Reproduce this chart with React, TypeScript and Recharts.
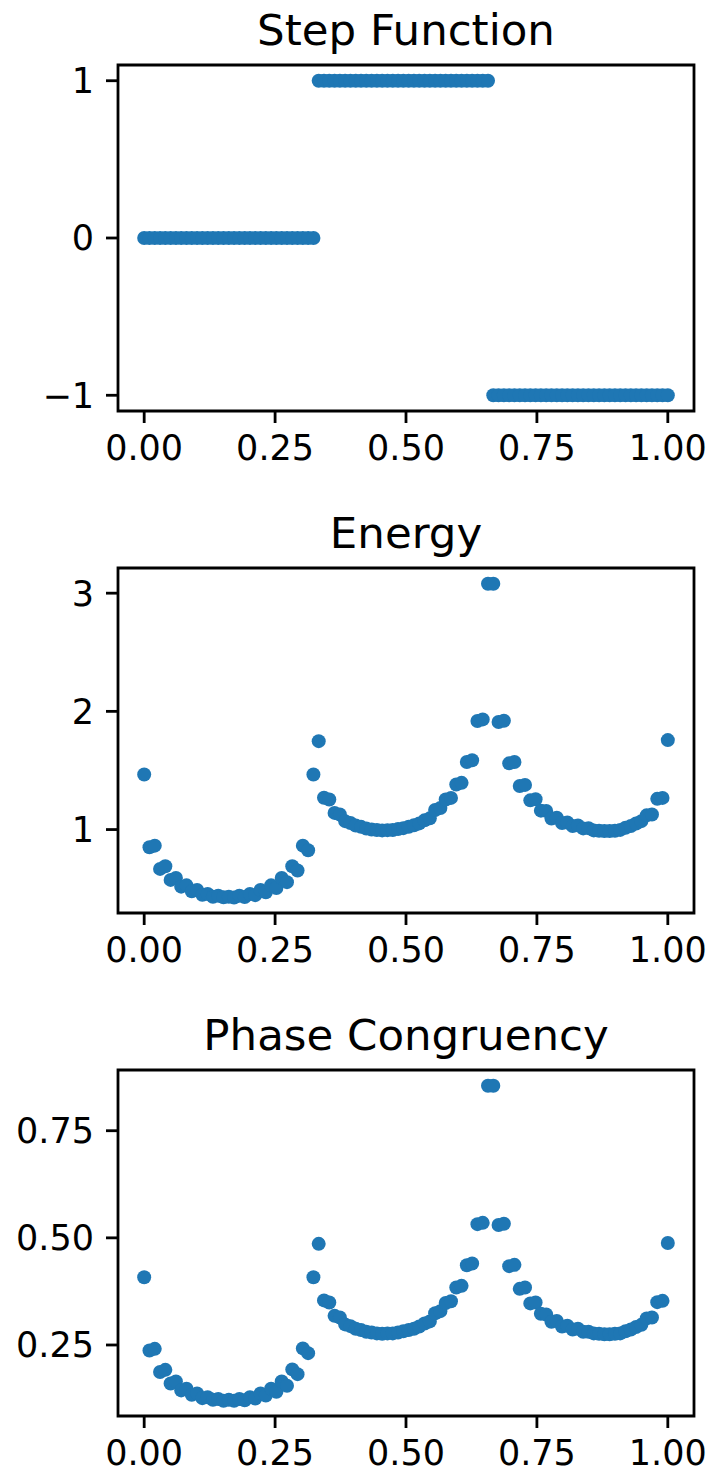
import React from "react";
import { ScatterChart, Scatter, XAxis, YAxis, ReferenceArea } from "recharts";

const xValues = [
  0, 0.0101, 0.0202, 0.0303, 0.0404, 0.0505, 0.0606, 0.0707, 0.0808, 0.0909,
  0.101, 0.1111, 0.1212, 0.1313, 0.1414, 0.1515, 0.1616, 0.1717, 0.1818, 0.1919,
  0.202, 0.2121, 0.2222, 0.2323, 0.2424, 0.2525, 0.2626, 0.2727, 0.2828, 0.2929,
  0.303, 0.3131, 0.3232, 0.3333, 0.3434, 0.3535, 0.3636, 0.3737, 0.3838, 0.3939,
  0.404, 0.4141, 0.4242, 0.4343, 0.4444, 0.4545, 0.4646, 0.4747, 0.4848, 0.4949,
  0.5051, 0.5152, 0.5253, 0.5354, 0.5455, 0.5556, 0.5657, 0.5758, 0.5859, 0.596,
  0.6061, 0.6162, 0.6263, 0.6364, 0.6465, 0.6566, 0.6667, 0.6768, 0.6869, 0.697,
  0.7071, 0.7172, 0.7273, 0.7374, 0.7475, 0.7576, 0.7677, 0.7778, 0.7879, 0.798,
  0.8081, 0.8182, 0.8283, 0.8384, 0.8485, 0.8586, 0.8687, 0.8788, 0.8889, 0.899,
  0.9091, 0.9192, 0.9293, 0.9394, 0.9495, 0.9596, 0.9697, 0.9798, 0.9899, 1.0,
];

const stepValues = [
  0, 0, 0, 0, 0, 0, 0, 0, 0, 0, 0, 0, 0, 0, 0, 0, 0, 0, 0, 0, 0, 0, 0, 0, 0, 0, 0, 0, 0, 0, 0, 0, 0,
  1, 1, 1, 1, 1, 1, 1, 1, 1, 1, 1, 1, 1, 1, 1, 1, 1, 1, 1, 1, 1, 1, 1, 1, 1, 1, 1, 1, 1, 1, 1, 1, 1,
  -1, -1, -1, -1, -1, -1, -1, -1, -1, -1, -1, -1, -1, -1, -1, -1, -1, -1, -1, -1, -1, -1, -1, -1, -1, -1,
  -1, -1, -1, -1, -1, -1, -1, -1,
];

const energyValues = [
  1.466, 0.85, 0.864, 0.667, 0.689, 0.574, 0.59, 0.517, 0.528, 0.477,
  0.489, 0.449, 0.455, 0.432, 0.441, 0.427, 0.432, 0.425, 0.441, 0.43,
  0.455, 0.445, 0.489, 0.47, 0.528, 0.505, 0.59, 0.555, 0.689, 0.653,
  0.864, 0.825, 1.466, 1.748, 1.269, 1.254, 1.141, 1.127, 1.071, 1.056,
  1.034, 1.023, 1.008, 1.0, 0.996, 0.993, 0.995, 0.996, 1.004, 1.012,
  1.024, 1.036, 1.052, 1.078, 1.095, 1.165, 1.182, 1.254, 1.268, 1.381,
  1.395, 1.571, 1.587, 1.918, 1.932, 3.08, 3.08, 1.91, 1.92, 1.56,
  1.572, 1.368, 1.378, 1.247, 1.256, 1.16, 1.158, 1.094, 1.1, 1.055,
  1.06, 1.03, 1.035, 1.01, 1.012, 0.993, 0.99, 0.987, 0.988, 0.99,
  0.997, 1.015, 1.03, 1.051, 1.071, 1.12, 1.127, 1.26, 1.268, 1.757,
];

const phaseValues = [
  0.408, 0.237, 0.241, 0.187, 0.192, 0.16, 0.165, 0.144, 0.148, 0.134,
  0.137, 0.126, 0.128, 0.122, 0.124, 0.12, 0.122, 0.12, 0.124, 0.121,
  0.128, 0.125, 0.137, 0.132, 0.148, 0.141, 0.165, 0.155, 0.193, 0.182,
  0.242, 0.231, 0.408, 0.486, 0.354, 0.349, 0.318, 0.314, 0.298, 0.294,
  0.288, 0.285, 0.281, 0.279, 0.277, 0.276, 0.277, 0.277, 0.279, 0.282,
  0.285, 0.288, 0.293, 0.3, 0.305, 0.324, 0.329, 0.348, 0.352, 0.384,
  0.388, 0.436, 0.44, 0.532, 0.535, 0.855, 0.855, 0.53, 0.533, 0.434,
  0.437, 0.381, 0.384, 0.347, 0.349, 0.323, 0.321, 0.304, 0.306, 0.293,
  0.295, 0.286, 0.288, 0.281, 0.281, 0.277, 0.276, 0.275, 0.275, 0.276,
  0.277, 0.282, 0.286, 0.292, 0.297, 0.312, 0.314, 0.35, 0.353, 0.488,
];

const xTicks = [0, 0.25, 0.5, 0.75, 1];
const stepTicks = [-1, 0, 1];
const energyTicks = [1, 2, 3];
const phaseTicks = [0.25, 0.5, 0.75];

const titles = ["Step Function", "Energy", "Phase Congruency"];

const BLUE = "#1f77b4";
const FONT = "DejaVu Sans";
const TICK_FONT = 35;
const LW = 2.8;

const XDOMAIN: [number, number] = [-0.05, 1.05];

const fmtMinus = (v: number) => (v < 0 ? "\u2212" + String(Math.abs(v)) : String(v));

const Dot = (props: any) => {
  const { cx, cy } = props;
  if (cx == null || cy == null) return null;
  return <circle cx={cx} cy={cy} r={7} fill={BLUE} />;
};

type PanelProps = {
  top: number;
  height: number;
  marginTop: number;
  xAxisHeight: number;
  yDomain: [number, number];
  yTicks: number[];
  yFormat: (v: number) => string;
  values: number[];
  title: string;
};

const Panel = ({ top, height, marginTop, xAxisHeight, yDomain, yTicks, yFormat, values, title }: PanelProps) => {
  const data = xValues.map((x, i) => ({ x, y: values[i] }));
  const tickStyle = { fill: "#000", fontSize: TICK_FONT, fontFamily: FONT };
  return (
    <div style={{ position: "absolute", left: 0, top, width: 717, height }}>
      <ScatterChart
        width={717}
        height={height}
        margin={{ top: marginTop, right: 23, bottom: 0, left: 0 }}
      >
        <XAxis
          type="number"
          dataKey="x"
          domain={XDOMAIN}
          ticks={xTicks}
          allowDataOverflow
          height={xAxisHeight}
          tickFormatter={(v: number) => v.toFixed(2)}
          tick={tickStyle}
          tickSize={12}
          tickMargin={12}
          axisLine={false}
          tickLine={{ stroke: "#000", strokeWidth: LW }}
          stroke="#000"
          interval={0}
        />
        <YAxis
          type="number"
          dataKey="y"
          domain={yDomain}
          ticks={yTicks}
          allowDataOverflow
          width={118}
          tickFormatter={yFormat}
          tick={tickStyle}
          tickSize={12}
          tickMargin={12}
          axisLine={false}
          tickLine={{ stroke: "#000", strokeWidth: LW }}
          stroke="#000"
          interval={0}
        />
        <Scatter data={data} isAnimationActive={false} shape={Dot} fill={BLUE} />
        <ReferenceArea
          x1={XDOMAIN[0]}
          x2={XDOMAIN[1]}
          y1={yDomain[0]}
          y2={yDomain[1]}
          fill="none"
          fillOpacity={0}
          stroke="#000"
          strokeWidth={LW}
          ifOverflow="visible"
        />
      </ScatterChart>
      <svg
        width={717}
        height={marginTop}
        style={{ position: "absolute", left: 0, top: 0, pointerEvents: "none" }}
      >
        <text
          x={406}
          y={marginTop - 20}
          textAnchor="middle"
          fontSize={43.5}
          fontFamily={FONT}
          fill="#000"
        >
          {title}
        </text>
      </svg>
    </div>
  );
};

export default function App() {
  return (
    <div
      style={{
        position: "absolute",
        left: 0,
        top: 0,
        width: 717,
        height: 1478,
        background: "#fff",
        overflow: "hidden",
      }}
    >
      <Panel
        top={0}
        height={490}
        marginTop={65}
        xAxisHeight={79}
        yDomain={[-1.1, 1.1]}
        yTicks={stepTicks}
        yFormat={fmtMinus}
        values={stepValues}
        title={titles[0]}
      />
      <Panel
        top={500}
        height={500}
        marginTop={68}
        xAxisHeight={87}
        yDomain={[0.294, 3.213]}
        yTicks={energyTicks}
        yFormat={(v: number) => String(v)}
        values={energyValues}
        title={titles[1]}
      />
      <Panel
        top={1000}
        height={478}
        marginTop={70}
        xAxisHeight={62}
        yDomain={[0.0843, 0.8917]}
        yTicks={phaseTicks}
        yFormat={(v: number) => v.toFixed(2)}
        values={phaseValues}
        title={titles[2]}
      />
    </div>
  );
}
